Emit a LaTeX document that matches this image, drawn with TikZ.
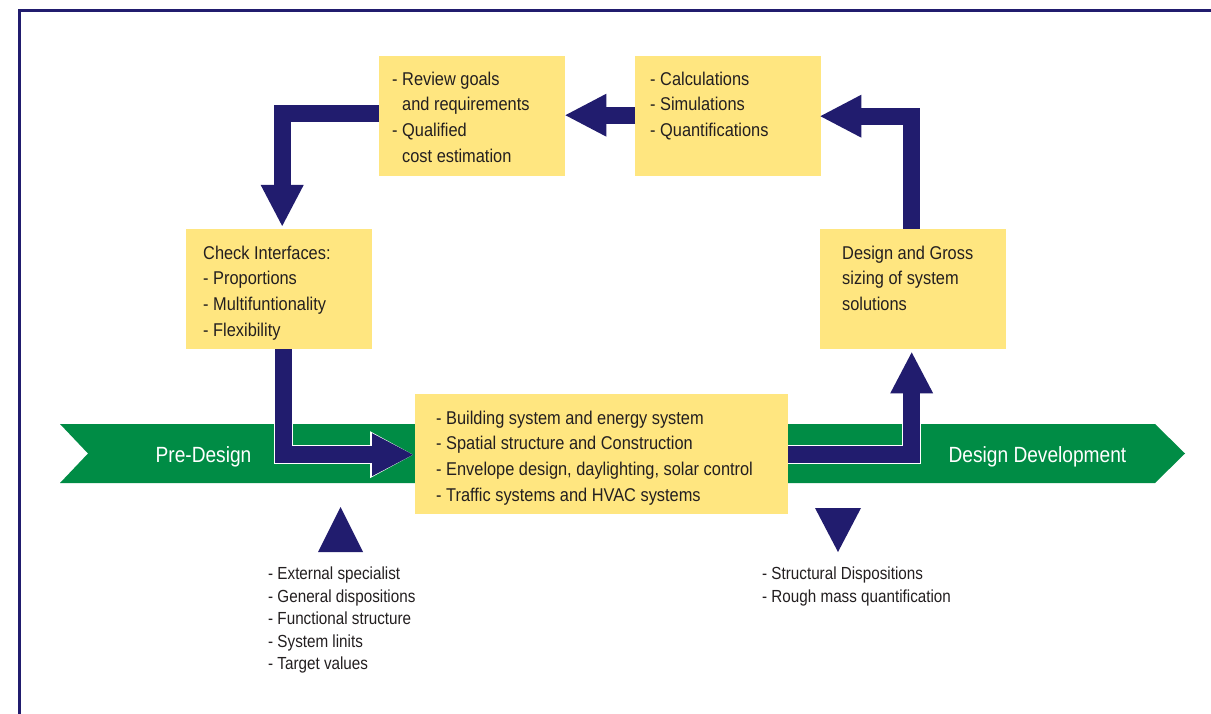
\documentclass[tikz,border=0pt]{standalone}
\usepackage{fontspec}
\newfontfamily\cf[FakeStretch=0.87]{Liberation Sans}
\newfontfamily\boxfnt[FakeStretch=0.885]{Liberation Sans}
\usetikzlibrary{arrows.meta}
\definecolor{navy}{HTML}{211C6E}
\definecolor{bandgreen}{HTML}{008C45}
\definecolor{yel}{HTML}{FFE680}
\definecolor{txt}{HTML}{231F20}
\newcommand\blockarr[1]{\draw[arrbg] #1; \draw[arrfg] #1;}
\begin{document}
\begin{tikzpicture}[x=1pt,y=-1pt,
  ybox/.style={fill=yel, inner sep=0pt, minimum width=186pt, minimum height=120pt, anchor=north west},
  btext/.style={anchor=north west, inner sep=0pt, align=left, text=txt, font=\boxfnt\fontsize{18.5}{25.7}\selectfont},
  stext/.style={anchor=north west, inner sep=0pt, align=left, text=txt, font=\cf\fontsize{17.5}{22.5}\selectfont},
  blabel/.style={anchor=base, inner sep=0pt, text=white, font=\cf\fontsize{22}{26}\selectfont},
  arrbg/.style={draw=white, line width=19pt, line join=miter, -{Triangle[width=47pt,length=43pt,line width=0pt]}},
  arrfg/.style={draw=navy, line width=17pt, line join=miter, -{Triangle[width=43pt,length=41pt,line width=0pt]}},
]
\useasboundingbox (0,0) rectangle (1211,714);
\fill[white] (0,0) rectangle (1211,714);
% frame
\draw[navy, line width=2.5pt] (19.5,714) -- (19.5,10.5) -- (1211,10.5);
% green band
\fill[bandgreen] (60,424) -- (1155,424) -- (1185,453.5) -- (1155,483) -- (60,483) -- (88,453.5) -- cycle;
\node[blabel] (pre) at (203.5,462) {Pre-Design};
\node[blabel] (dd) at (1037.5,462) {Design Development};
% boxes
\node[ybox] (rev) at (379,56) {};
\node[ybox] (calc) at (635,56) {};
\node[ybox] (chk) at (186,229) {};
\node[ybox] (des) at (820,229) {};
\node[ybox, minimum width=373pt] (mid) at (415,394) {};
% box texts
\node[btext] (revt) at (392,71.5) {- Review goals\\\phantom{- }and requirements\\- Qualified\\\phantom{- }cost estimation};
\node[btext] (calct) at (650,71.5) {- Calculations\\- Simulations\\- Quantifications};
\node[btext] (chkt) at (203,245.5) {Check Interfaces:\\- Proportions\\- Multifuntionality\\- Flexibility};
\node[btext] (dest) at (842,245.5) {Design and Gross\\sizing of system\\solutions};
\node[btext] (midt) at (436,410.5) {- Building system and energy system\\- Spatial structure and Construction\\- Envelope design, daylighting, solar control\\- Traffic systems and HVAC systems};
% block arrows
\blockarr{([yshift=2.5pt]rev.west) -| ([xshift=3pt,yshift=3pt]chk.north)}
\blockarr{([xshift=-1.5pt]des.north) |- ([xshift=-1pt]calc.east)}
\blockarr{([yshift=1pt]calc.west) -- ([yshift=1pt]rev.east)}
\blockarr{([xshift=4pt]chk.south) |- ([yshift=-0.5pt,xshift=-2pt]mid.west)}
\blockarr{(mid.east) -| ([xshift=-1.5pt,yshift=-3pt]des.south)}
% small triangles
\fill[navy] (318,552) -- (363,552) -- (340.5,507) -- cycle;
\fill[navy] (815,508) -- (861,508) -- (838,552) -- cycle;
% bottom notes
\node[stext] (notel) at (268,567) {- External specialist\\- General dispositions\\- Functional structure\\- System linits\\- Target values};
\node[stext] (noter) at (762,567) {- Structural Dispositions\\- Rough mass quantification};
\end{tikzpicture}
\end{document}
